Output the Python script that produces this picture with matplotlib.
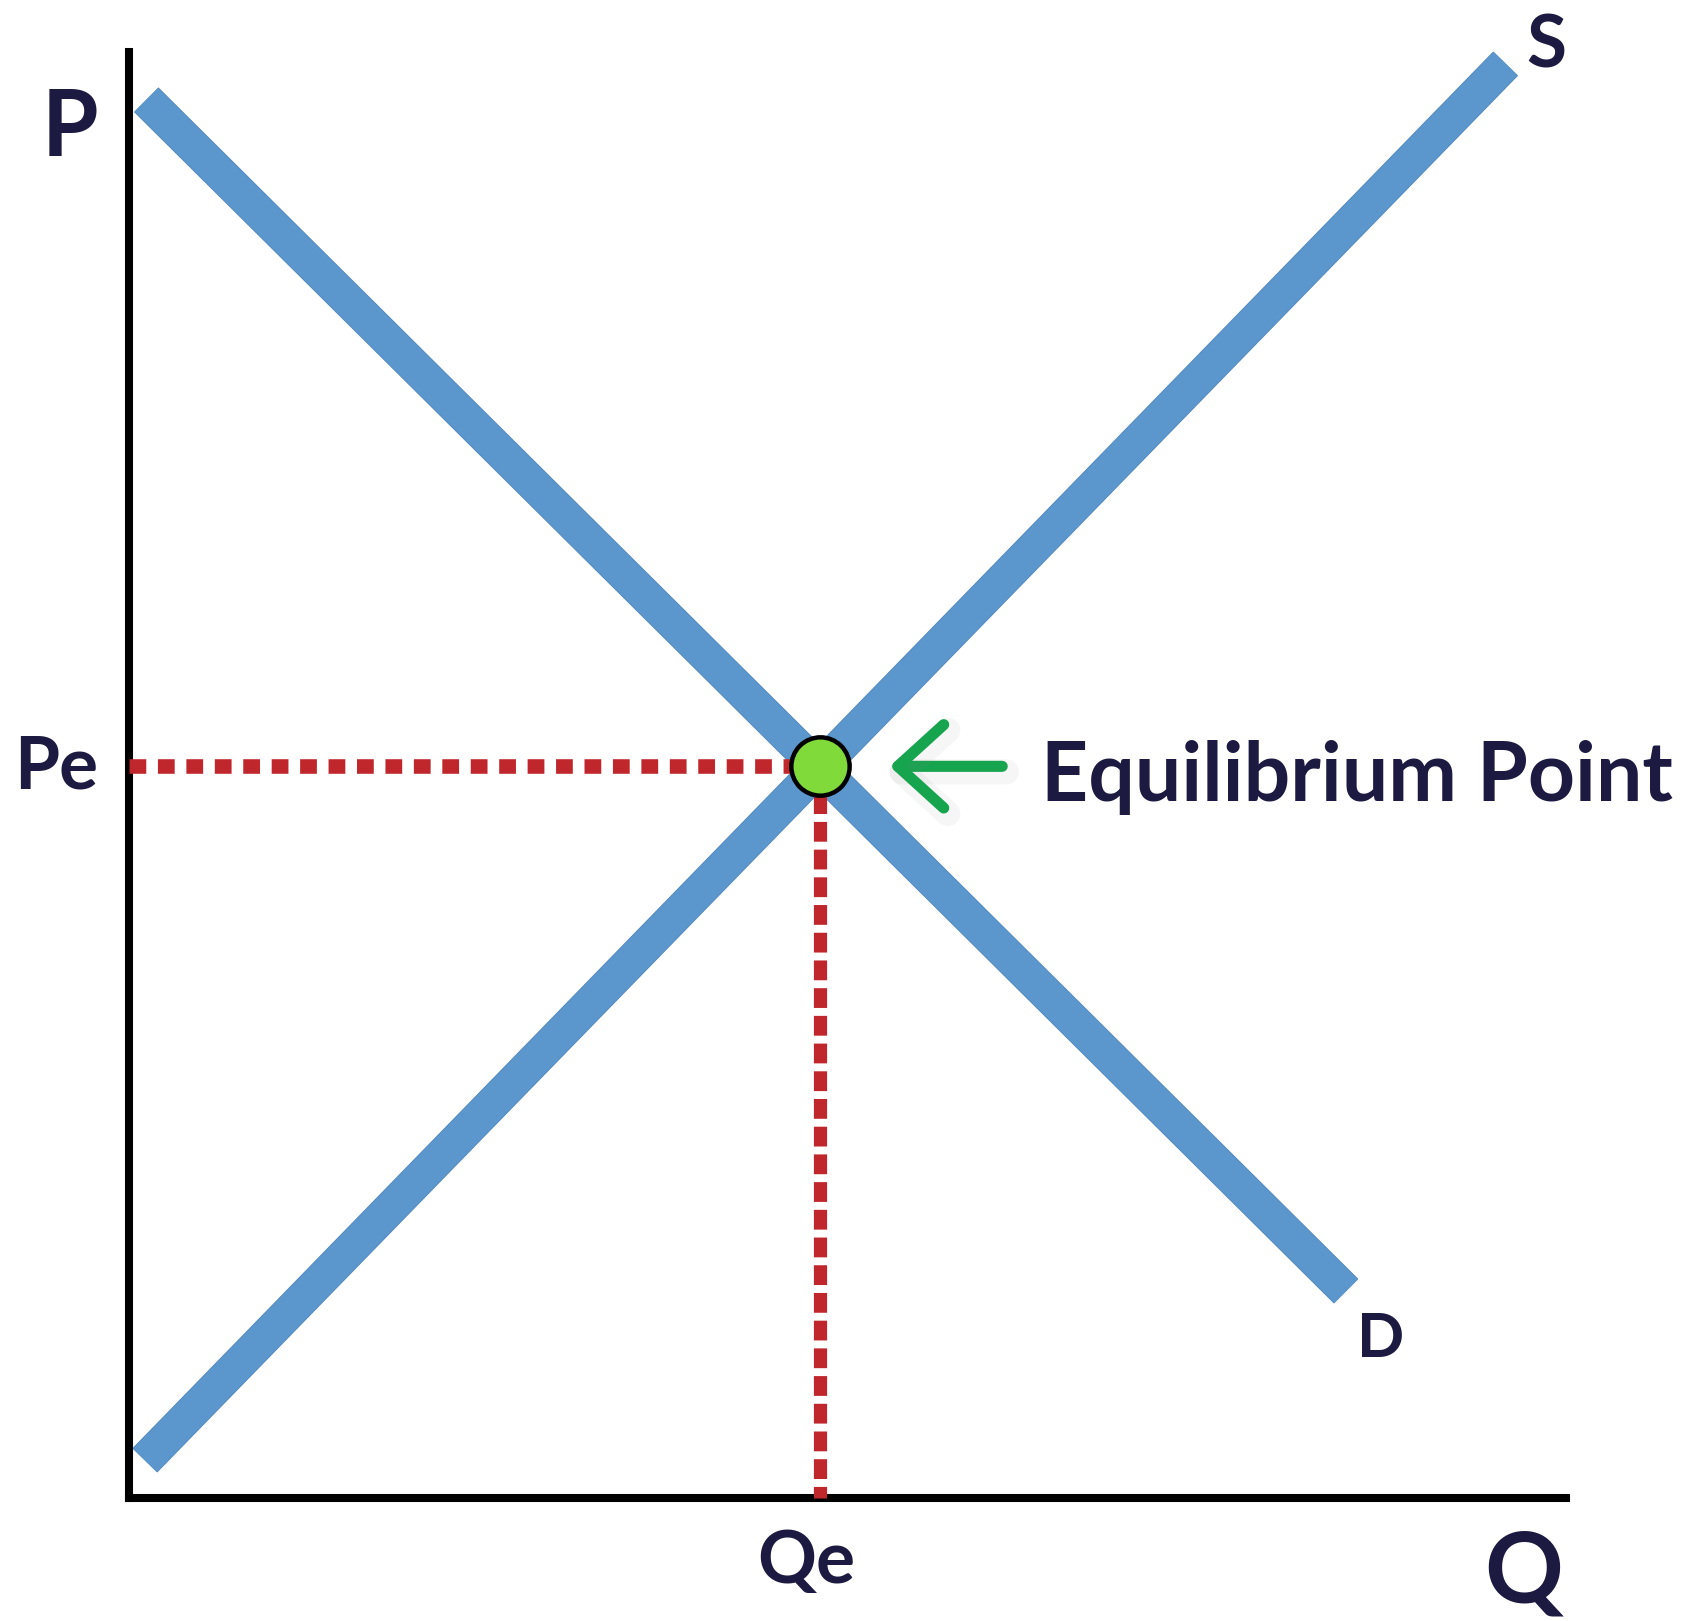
import numpy as np
from matplotlib import pyplot as plt
import matplotlib.patheffects as pe

# supply / demand in arbitrary units (axis runs 0..10)
demand_q = [0.12, 8.47]
demand_p = [9.67, 1.43]
supply_q = [0.11, 9.58]
supply_p = [0.26, 9.92]
eq_q, eq_p = 4.81, 5.06

navy = '#1c1a40'
blue = '#5b97cd'
red = '#c0272d'
green = '#17a44f'
fnt = 'Lato'

fig = plt.figure(figsize=(16.99, 16.21), dpi=100)
ax = fig.add_axes([129 / 1699, 123 / 1621, 1437 / 1699, 1446 / 1621])
ax.set_xlim(0, 10)
ax.set_ylim(0, 10)
ax.set_xticks([])
ax.set_yticks([])
for s in ['top', 'right']:
    ax.spines[s].set_visible(False)
for s in ['left', 'bottom']:
    ax.spines[s].set_linewidth(5.8)
    ax.spines[s].set_color('black')

outline = [pe.Stroke(linewidth=25, foreground='#4d84b8'), pe.Normal()]
ax.plot(supply_q, supply_p, color=blue, lw=24, solid_capstyle='butt',
        path_effects=outline, clip_on=False, zorder=2)
ax.plot(demand_q, demand_p, color=blue, lw=24, solid_capstyle='butt',
        path_effects=outline, clip_on=False, zorder=2)

# dotted guides
ax.plot([0, eq_q], [eq_p, eq_p], color=red, lw=10.5, ls=(0, (1.15, 0.8)),
        dash_capstyle='butt', zorder=3, clip_on=False)
ax.plot([eq_q, eq_q], [eq_p, 0], color=red, lw=9.5, ls=(0, (1.5, 0.6)),
        dash_capstyle='butt', zorder=3, clip_on=False)

ax.plot([eq_q], [eq_p], 'o', ms=42, mfc='#80db3a', mec='black', mew=3.2,
        zorder=5, clip_on=False)

# arrow pointing at equilibrium
ax.annotate('', xy=(eq_q, eq_p), xytext=(182, 0), textcoords='offset pixels',
            arrowprops=dict(arrowstyle='->,head_length=33,head_width=30',
                            mutation_scale=1, lw=8, color=green,
                            shrinkA=0, shrinkB=50, capstyle='round',
                            joinstyle='round',
                            path_effects=[pe.SimpleLineShadow(offset=(3, -4), shadow_color='gray', alpha=0.07, linewidth=18), pe.Normal()]),
            zorder=4)

renderer = fig.canvas.get_renderer()


def label(txt, xy, off, width_px, ha='center'):
    # size text so that its drawn width matches the reference
    t = ax.annotate(txt, xy=xy, xytext=off, textcoords='offset pixels',
                    ha=ha, va='baseline', fontsize=10, fontweight='bold',
                    color=navy, family=fnt, annotation_clip=False)
    w = t.get_window_extent(renderer).width
    t.set_fontsize(10 * width_px / w)
    return t


label('Equilibrium Point', (eq_q, eq_p), (221, -35), 632, ha='left')
label('P', (0, 10), (-59, -104), 56)
label('Q', (10, 0), (-42, -104), 78)
label('Pe', (0, eq_p), (-31, -22), 84, ha='right')
label('Qe', (eq_q, 0), (-14, -85), 98)
label('S', (supply_q[1], supply_p[1]), (41, -4), 40)
label('D', (demand_q[1], demand_p[1]), (34, -66), 47)

plt.savefig('out.png', dpi=100)
